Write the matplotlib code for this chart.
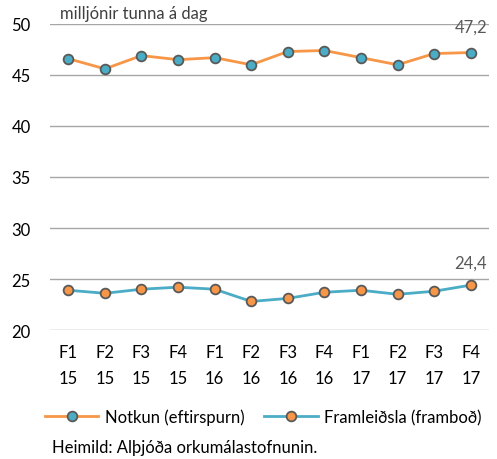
import matplotlib
matplotlib.use('Agg')
import matplotlib.pyplot as plt
from matplotlib.lines import Line2D

plt.rcParams['font.family'] = ['Lato', 'DejaVu Sans']

quarters = ['F1', 'F2', 'F3', 'F4', 'F1', 'F2', 'F3', 'F4', 'F1', 'F2', 'F3', 'F4']
years = ['15', '15', '15', '15', '16', '16', '16', '16', '17', '17', '17', '17']
notkun = [46.6, 45.6, 46.9, 46.5, 46.7, 46.0, 47.3, 47.4, 46.7, 46.0, 47.1, 47.2]
framleidsla = [23.9, 23.6, 24.0, 24.2, 24.0, 22.8, 23.1, 23.7, 23.9, 23.5, 23.8, 24.4]

ORANGE = '#F79646'
BLUE = '#4BACC6'
EDGE = '#595959'
GRID = '#A6A6A6'


def main():
    fig = plt.figure(figsize=(4.97, 4.6), dpi=100)
    ax = fig.add_axes([0.1006, 0.2804, 0.8834, 0.6653])

    x = list(range(len(quarters)))
    ax.plot(x, notkun, color=ORANGE, lw=2, marker='o', ms=7,
            mfc=BLUE, mec=EDGE, mew=1.3, zorder=3)
    ax.plot(x, framleidsla, color=BLUE, lw=2, marker='o', ms=7,
            mfc=ORANGE, mec=EDGE, mew=1.3, zorder=3)

    ax.set_xlim(-0.5, len(quarters) - 0.5)
    ax.set_ylim(20, 50)
    ax.set_yticks(range(20, 51, 5))
    ax.yaxis.grid(True, color=GRID, lw=1)
    ax.set_axisbelow(True)
    for s in ax.spines.values():
        s.set_visible(False)
    ax.tick_params(length=0, labelsize=12, colors='black')
    ax.tick_params(axis='y', pad=14)
    ax.tick_params(axis='x', pad=10)
    ax.set_xticks(x)
    ax.set_xticklabels([q + '\n' + y for q, y in zip(quarters, years)],
                       linespacing=1.8)

    # end labels
    ax.annotate('47,2', (x[-1], notkun[-1]), xytext=(0, 19),
                textcoords='offset points', ha='center', va='center',
                fontsize=12, color='#595959')
    ax.annotate('24,4', (x[-1], framleidsla[-1]), xytext=(0, 16),
                textcoords='offset points', ha='center', va='center',
                fontsize=12, color='#595959')

    fig.text(60 / 497, 1 - 14 / 460, 'milljónir tunna á dag', fontsize=12,
             color='#404040', va='center', ha='left')

    handles = [
        Line2D([], [], color=ORANGE, lw=2, marker='o', ms=7, mfc=BLUE,
               mec=EDGE, mew=1.3),
        Line2D([], [], color=BLUE, lw=2, marker='o', ms=7, mfc=ORANGE,
               mec=EDGE, mew=1.3),
    ]
    fig.legend(handles, ['Notkun (eftirspurn)', 'Framleiðsla (framboð)'],
               loc='center', bbox_to_anchor=(0.53, 1 - 418 / 460), ncol=2,
               frameon=False, fontsize=12, handlelength=3.2,
               columnspacing=1.2, handletextpad=0.4, borderpad=0.1)

    fig.text(52 / 497, 1 - 448 / 460, 'Heimild: Alþjóða orkumálastofnunin.',
             fontsize=12, color='black', va='center', ha='left')

    fig.savefig('out.png', dpi=100)


if __name__ == '__main__':
    main()
